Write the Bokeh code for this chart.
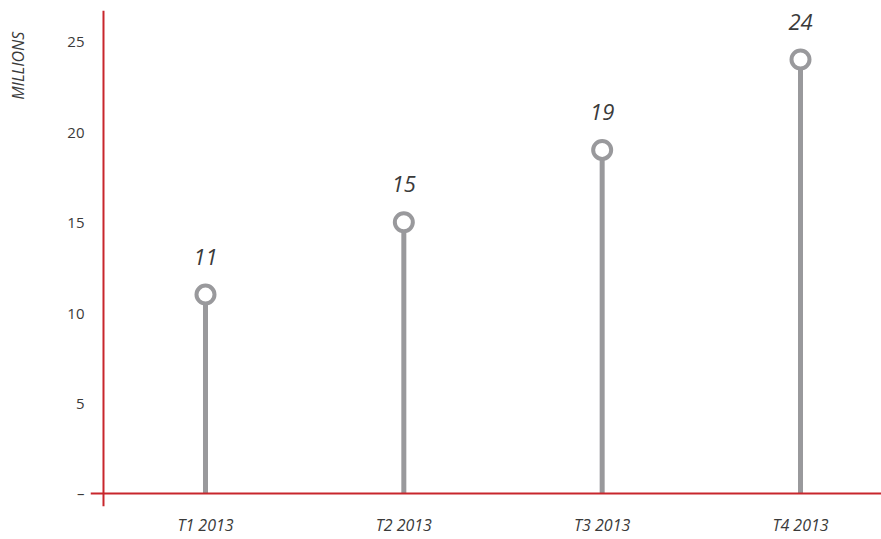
import math
from bokeh.plotting import figure
from bokeh.layouts import row
from bokeh.models import ColumnDataSource, Span, Label, FixedTicker, Range1d
from bokeh.core.properties import value
from bokeh.embed import file_html
from bokeh.resources import INLINE

# Quarterly values (millions)
quarters = ["T1 2013", "T2 2013", "T3 2013", "T4 2013"]
positions = [1, 2, 3, 4]
values = [11, 15, 19, 24]
value_labels = ["11", "15", "19", "24"]
y_ticks = [0, 5, 10, 15, 20, 25]
unit_caption = "MILLIONS"

RED = "#c8262c"
GREY = "#99999c"
TEXT = "#3a3a3a"
FONT = "Open Sans"

CAPTION_W = 40
W, H = 881, 539

src = ColumnDataSource(dict(x=positions, y=values, zero=[0] * len(values), lbl=value_labels))

p = figure(width=W - CAPTION_W, height=H, output_backend="svg", toolbar_location=None,
           x_range=Range1d(0.4202, 4.4084), y_range=Range1d(-0.719, 26.71),
           min_border_left=90 - CAPTION_W, min_border_right=0, min_border_top=10,
           min_border_bottom=33)

p.background_fill_color = "white"
p.border_fill_color = "white"
p.outline_line_color = None
p.xgrid.grid_line_color = None
p.ygrid.grid_line_color = None

# stems and hollow markers
p.segment(x0="x", y0="zero", x1="x", y1="y", source=src, line_color=GREY, line_width=5)
p.scatter(x="x", y="y", source=src, size=18, marker="circle", fill_color="white",
          line_color=GREY, line_width=4)

# value labels above each marker
p.text(x="x", y="y", text="lbl", source=src, y_offset=-38, text_align="center",
       text_baseline="middle", text_font=value(FONT), text_font_style="italic",
       text_font_size="22px", text_color=TEXT)

# red axis lines crossing at the origin
p.add_layout(Span(location=0, dimension="width", line_color=RED, line_width=2))
p.add_layout(Span(location=0.4857, dimension="height", line_color=RED, line_width=2))

# x axis
xa = p.xaxis[0]
xa.ticker = FixedTicker(ticks=positions)
xa.major_label_overrides = {pos: q for pos, q in zip(positions, quarters)}
xa.axis_line_color = None
xa.major_tick_line_color = None
xa.minor_tick_line_color = None
xa.major_tick_out = 0
xa.major_tick_in = 0
xa.minor_tick_out = 0
xa.major_label_standoff = 7
xa.major_label_text_font = FONT
xa.major_label_text_font_style = "italic"
xa.major_label_text_font_size = "16px"
xa.major_label_text_color = TEXT

# y axis
ya = p.yaxis[0]
ya.ticker = FixedTicker(ticks=y_ticks)
ya.major_label_overrides = {0: "\u2013"}
ya.axis_line_color = None
ya.major_tick_line_color = None
ya.minor_tick_line_color = None
ya.major_tick_out = 0
ya.major_tick_in = 0
ya.minor_tick_out = 0
ya.major_label_standoff = 6
ya.major_label_text_font = FONT
ya.major_label_text_font_size = "15px"
ya.major_label_text_color = TEXT

# narrow strip on the left carrying the vertical unit caption
cap = figure(width=CAPTION_W, height=H, output_backend="svg", toolbar_location=None,
             x_range=Range1d(0, CAPTION_W), y_range=Range1d(0, H),
             x_axis_type=None, y_axis_type=None, min_border=0)
cap.outline_line_color = None
cap.xgrid.grid_line_color = None
cap.ygrid.grid_line_color = None
cap.add_layout(Label(x=17, y=H - 60, text=unit_caption, angle=math.pi / 2,
                     text_align="center", text_baseline="middle", text_font=FONT,
                     text_font_style="italic", text_font_size="16px", text_color=TEXT))

layout = row(cap, p, spacing=0)
open("out.html", "w").write(file_html(layout, INLINE))
